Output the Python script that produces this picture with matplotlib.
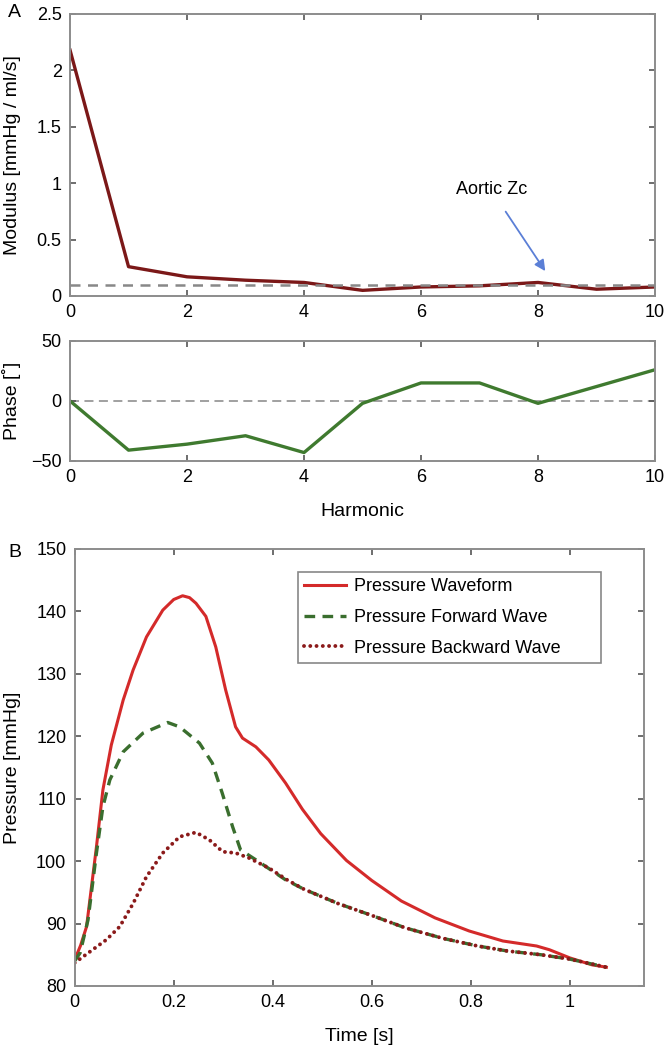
import numpy as np
import matplotlib.pyplot as plt

plt.rcParams['font.family'] = ['Liberation Sans', 'DejaVu Sans']

# panel A: input impedance
harmonic = [0, 1, 2, 3, 4, 5, 6, 7, 8, 9, 10]
modulus = [2.18, 0.26, 0.17, 0.14, 0.12, 0.05, 0.08, 0.09, 0.12, 0.06, 0.08]
phase = [0, -41, -36, -29, -43, -2, 15, 15, -2, 12, 26]
zc = 0.1

# panel B: wave separation
t_p = [0.0, 0.012, 0.024, 0.044, 0.057, 0.074, 0.098, 0.118, 0.145, 0.178, 0.2,
       0.218, 0.232, 0.245, 0.265, 0.285, 0.305, 0.325, 0.339, 0.366, 0.392,
       0.426, 0.46, 0.497, 0.549, 0.6, 0.66, 0.728, 0.797, 0.865, 0.933,
       0.959, 1.0, 1.044, 1.074]
p_wave = [84.2, 86.5, 89.5, 102.3, 111.4, 118.6, 125.8, 130.6, 135.9, 140.2, 141.9,
          142.5, 142.2, 141.3, 139.2, 134.3, 127.4, 121.5, 119.7, 118.3, 116.2,
          112.5, 108.3, 104.4, 100.1, 96.9, 93.6, 90.9, 88.8, 87.2, 86.4,
          85.8, 84.5, 83.4, 83.0]

t_f = [0.0, 0.011, 0.027, 0.044, 0.057, 0.071, 0.098, 0.138, 0.188, 0.212, 0.252,
       0.278, 0.298, 0.319, 0.335, 0.366, 0.426, 0.463, 0.532, 0.6, 0.668,
       0.745, 0.814, 0.874, 0.942, 1.0, 1.074]
p_fwd = [84.0, 85.3, 90.6, 101.3, 108.7, 113.0, 117.5, 120.5, 122.2, 121.5, 118.9,
         115.7, 110.9, 105.5, 101.8, 100.2, 97.0, 95.5, 93.2, 91.3, 89.3,
         87.6, 86.4, 85.6, 85.0, 84.3, 83.0]

t_b = [0.0, 0.031, 0.064, 0.091, 0.118, 0.145, 0.178, 0.212, 0.245, 0.272, 0.299,
       0.325, 0.352, 0.392, 0.429, 0.463, 0.532, 0.6, 0.668, 0.745, 0.814,
       0.874, 0.942, 1.0, 1.074]
p_bwd = [83.7, 85.5, 87.4, 89.5, 93.2, 97.5, 101.3, 103.9, 104.6, 103.4, 101.5,
         101.3, 100.5, 98.9, 97.0, 95.5, 93.2, 91.3, 89.3, 87.6, 86.4,
         85.6, 85.0, 84.3, 83.0]

spine_col = '#8c8c8c'
fs = 13
lab_fs = 14


def style(ax):
    for s in ax.spines.values():
        s.set_color(spine_col)
        s.set_linewidth(1.4)
    ax.tick_params(direction='in', top=True, right=True, length=4,
                   width=1.2, color='#555555', labelsize=fs, pad=6)


fig = plt.figure(figsize=(6.65, 10.5), dpi=100)

ax1 = fig.add_axes([0.1053, 0.7181, 0.8797, 0.2686])
ax1.plot(harmonic, modulus, color='#7b1818', lw=2.4, zorder=2)
ax1.axhline(zc, color='#888888', ls=(0, (4, 3)), lw=1.8, zorder=3)
ax1.set_xlim(0, 10)
ax1.set_ylim(0, 2.5)
ax1.set_xticks([0, 2, 4, 6, 8, 10])
ax1.set_yticks([0, 0.5, 1, 1.5, 2, 2.5])
ax1.set_yticklabels(['0', '0.5', '1', '1.5', '2', '2.5'])
ax1.set_ylabel('Modulus [mmHg / ml/s]', fontsize=lab_fs)
ax1.yaxis.set_label_coords(-0.084, 0.5)
ax1.annotate('Aortic Zc', xy=(8.15, 0.2), xytext=(7.2, 0.94),
             ha='center', va='center', fontsize=fs,
             arrowprops=dict(arrowstyle='-|>', color='#5b7fd6', lw=1.3,
                             mutation_scale=16, shrinkA=9))
style(ax1)

ax2 = fig.add_axes([0.1053, 0.5610, 0.8797, 0.1143])
ax2.axhline(0, color='#999999', ls=(0, (5, 3)), lw=1.3, zorder=1)
ax2.plot(harmonic, phase, color='#3f7a2f', lw=2.4, zorder=2)
ax2.set_xlim(0, 10)
ax2.set_ylim(-50, 50)
ax2.set_xticks([0, 2, 4, 6, 8, 10])
ax2.set_yticks([-50, 0, 50])
ax2.set_ylabel('Phase [˚]', fontsize=lab_fs)
ax2.yaxis.set_label_coords(-0.084, 0.5)
ax2.set_xlabel('Harmonic', fontsize=lab_fs, labelpad=12)
style(ax2)

ax3 = fig.add_axes([0.1123, 0.0610, 0.8561, 0.4162])
ax3.plot(t_p, p_wave, color='#d42a2a', lw=2.2, label='Pressure Waveform')
ax3.plot(t_f, p_fwd, color='#3a6e2e', lw=2.4, ls=(0, (3.2, 2.2)),
         label='Pressure Forward Wave')
ax3.plot(t_b, p_bwd, color='#8b1a1a', lw=2.8, ls=(0, (0.01, 1.6)),
         dash_capstyle='round', label='Pressure Backward Wave')
ax3.set_xlim(0, 1.15)
ax3.set_ylim(80, 150)
ax3.set_xticks([0, 0.2, 0.4, 0.6, 0.8, 1])
ax3.set_xticklabels(['0', '0.2', '0.4', '0.6', '0.8', '1'])
ax3.set_ylabel('Pressure [mmHg]', fontsize=lab_fs)
ax3.yaxis.set_label_coords(-0.094, 0.5)
ax3.set_xlabel('Time [s]', fontsize=lab_fs, labelpad=12)
leg = ax3.legend(loc='upper left', bbox_to_anchor=(0.392, 0.0, 0.532, 0.947),
                 mode='expand', fontsize=13,
                 fancybox=False, framealpha=1, edgecolor='#888888',
                 handlelength=2.33, handletextpad=0.45, borderpad=0.35,
                 labelspacing=0.75, borderaxespad=0)
leg.get_frame().set_linewidth(1.2)
style(ax3)

fig.text(0.012, 0.988, 'A', fontsize=14, va='center')
fig.text(0.012, 0.474, 'B', fontsize=14, va='center')

fig.savefig('out.png', dpi=100)
